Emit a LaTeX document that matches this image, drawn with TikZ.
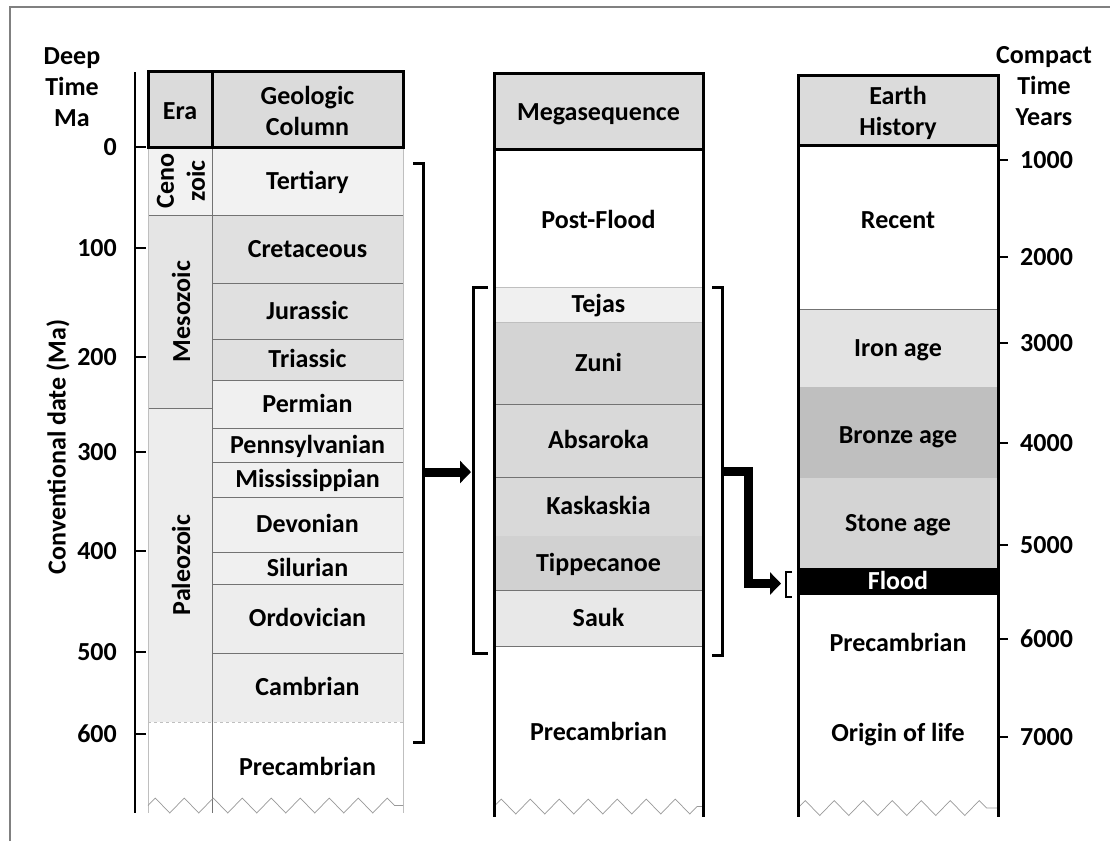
\documentclass[tikz,border=0pt]{standalone}
\usepackage{fontspec}
\setmainfont{Carlito}
\usetikzlibrary{arrows.meta,decorations.pathmorphing}
\definecolor{hdr}{gray}{0.86}
\newcommand\mkcell[7]{%
  \path[fill=#6] (#2,#3) rectangle (#4,#5);
  \node[lbl1] (#1) at ({(#2+#4)/2},{(#3+#5)/2}) {#7};
}
\begin{document}
\begin{tikzpicture}[x=1pt,y=-1pt,
  lbl/.style={font=\fontsize{26}{31}\selectfont\bfseries, align=center, inner sep=0pt},
  lbl1/.style={lbl, text height=17pt, text depth=1pt},
  bord/.style={line width=3pt, line cap=rect},
  sep/.style={draw=black!55, line width=0.9pt},
  lightsep/.style={draw=black!25, line width=0.9pt},
  zig/.style={draw=black!40, line width=0.7pt, decorate,
    decoration={zigzag, segment length=29pt, amplitude=7.5pt}},
  brk/.style={line width=3pt, line join=miter},
  fat/.style={line width=9pt, line join=miter, -{Triangle[length=11pt,width=22pt]}},
  tick/.style={line width=2.5pt}]
\useasboundingbox (0,0) rectangle (1110,841);
% frame
\draw[black!50, line width=1.5pt] (10,841) -- (10,7) -- (1110,7);

% ---------- Column 1 ----------
% era cells
\mkcell{ceno}{148}{147}{212}{215}{black!5}{}
\mkcell{meso}{148}{215}{212}{408}{black!10}{}
\mkcell{paleo}{148}{408}{212}{722}{black!7}{}
\node[lbl, rotate=90] (cenot) at (181,181) {Ceno\\zoic};
\node[lbl1, rotate=90] (mesot) at (182,311.5) {Mesozoic};
\node[lbl1, rotate=90] (paleot) at (182,565) {Paleozoic};
% period cells
\mkcell{tert}{212}{147}{403}{215}{black!5}{Tertiary}
\mkcell{cret}{212}{215}{403}{283}{black!12}{Cretaceous}
\mkcell{jur}{212}{283}{403}{339}{black!12}{Jurassic}
\mkcell{tri}{212}{339}{403}{380}{black!12}{Triassic}
\mkcell{perm}{212}{380}{403}{428}{black!6}{Permian}
\mkcell{penn}{212}{428}{403}{462}{black!6}{Pennsylvanian}
\mkcell{miss}{212}{462}{403}{497}{black!6}{Mississippian}
\mkcell{dev}{212}{497}{403}{552}{black!6}{Devonian}
\mkcell{sil}{212}{552}{403}{584}{black!6}{Silurian}
\mkcell{ord}{212}{584}{403}{653}{black!7}{Ordovician}
\mkcell{camb}{212}{653}{403}{722}{black!7}{Cambrian}
\mkcell{precA}{212}{722}{403}{813}{white}{Precambrian}
% separators
\foreach \yy in {215,283,339,380,428,462,497,552,584,653}
  \draw[sep] (212,\yy) -- (403,\yy);
\draw[sep] (148,215) -- (212,215);
\draw[sep] (148,408) -- (212,408);
\draw[lightsep, dashed] (148,722) -- (403,722);
\draw[lightsep] (148,147) -- (148,813);
\draw[sep] (212,147) -- (212,813);
\draw[lightsep] (403,147) -- (403,813);
\draw[zig] (148,805.5) -- (403,805.5);
% header
\draw[bord, fill=hdr] (148,71) rectangle (403,147);
\draw[bord] (212,71) -- (212,147);
\node[lbl1] (era) at (180,111) {Era};
\node[lbl] (geo) at (307.5,111) {Geologic\\Column};

% left axis
\draw[line width=2.5pt] (135,72) -- (135,813);
\foreach \yy/\tt in {147/0,248/100,357/200,452/300,551/400,652/500,734/600}{
  \draw[tick] (135,\yy) -- (146,\yy);
  \node[lbl, anchor=east] at (117,\yy) {\tt};
}
\node[lbl] (deep) at (72,87) {Deep\\Time\\Ma};
\node[lbl, rotate=90] (conv) at (58,447) {Conventional date (Ma)};

% bracket 1
\draw[brk] (413,163) -- (423,163) -- (423,742) -- (413,742);
\coordinate (b1) at (423,472);

% ---------- Column 2 ----------
\mkcell{post}{494}{149}{703}{287}{white}{}
\node[lbl1] (postt) at (598.5,220) {Post-Flood};
\mkcell{tejas}{494}{287}{703}{322}{black!6}{Tejas}
\mkcell{zuni}{494}{322}{703}{404}{black!17}{Zuni}
\mkcell{absa}{494}{404}{703}{477}{black!15}{Absaroka}
\mkcell{kask}{494}{477}{703}{536}{black!15}{Kaskaskia}
\mkcell{tipp}{494}{536}{703}{590}{black!18}{Tippecanoe}
\mkcell{sauk}{494}{590}{703}{646}{black!9}{Sauk}
\mkcell{precB}{494}{646}{703}{813}{white}{}
\node[lbl1] (precBt) at (598.5,732) {Precambrian};
\draw[lightsep] (494,287) -- (703,287);
\draw[lightsep] (494,322) -- (703,322);
\foreach \yy in {404,477,590,646}
  \draw[sep] (494,\yy) -- (703,\yy);
\draw[zig] (494,806.5) -- (703,806.5);
\draw[bord] (494,149) -- (494,815);
\draw[bord] (703,149) -- (703,815);
\draw[bord, fill=hdr] (494,73) rectangle (703,149);
\node[lbl1] (mega) at (598.5,112) {Megasequence};
% brackets 2
\draw[brk] (488,287) -- (473,287) -- (473,653) -- (488,653);
\draw[brk] (712,287) -- (722,287) -- (722,655) -- (712,655);
\coordinate (b2) at (471,472);
\coordinate (b3) at (722,471.5);

% ---------- Column 3 ----------
\mkcell{recent}{798}{145}{998}{309}{white}{}
\node[lbl1] (recentt) at (898,220) {Recent};
\mkcell{iron}{798}{309}{998}{387}{black!11}{Iron age}
\mkcell{bronze}{798}{387}{998}{478}{black!25}{}
\node[lbl1] (bronzet) at (898,435) {Bronze age};
\mkcell{stone}{798}{478}{998}{568}{black!17}{Stone age}
\path[fill=black] (798,568) rectangle (998,595);
\node[lbl1, text=white] (flood) at (898,581.5) {Flood};
\node[lbl1] (precC) at (898,643) {Precambrian};
\node[lbl1] (orig) at (898,733) {Origin of life};
\draw[sep] (798,309) -- (998,309);
\draw[zig] (798,808) -- (998,808);
\draw[bord] (798,145) -- (798,815);
\draw[bord] (998,145) -- (998,815);
\draw[bord, fill=hdr] (798,75) rectangle (998,145);
\node[lbl] (earth) at (898,113) {Earth\\History};
% right axis
\foreach \yy/\tt in {160/1000,257/2000,343/3000,443/4000,545/5000,639/6000,737/7000}{
  \draw[tick] (998,\yy) -- (1008,\yy);
  \node[lbl, anchor=west] at (1020,\yy) {\tt};
}
\node[lbl] (compact) at (1044,86) {Compact\\Time\\Years};
% small bracket
\draw[line width=2pt] (792,572) -- (786,572) -- (786,597) -- (792,597);
\coordinate (fl) at (781,583.5);
\coordinate (kn) at (748,583.5);

% arrows
\draw[fat] (b1) -- (b2);
\draw[fat] (b3) -| (kn) -- (fl);
\end{tikzpicture}
\end{document}
